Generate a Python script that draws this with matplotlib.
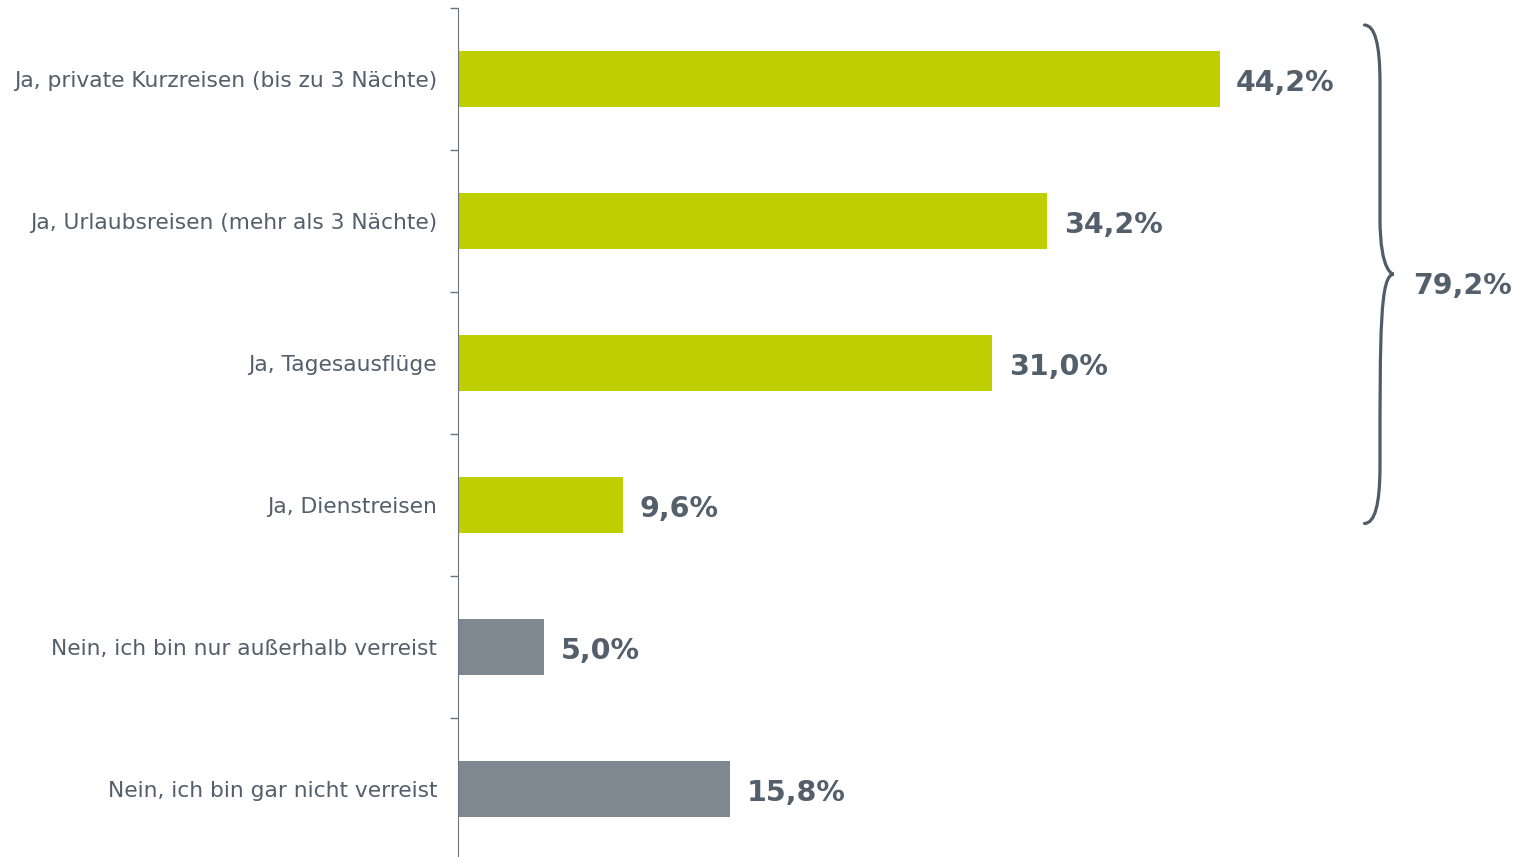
import matplotlib.pyplot as plt
from matplotlib.path import Path
from matplotlib.patches import PathPatch

categories = [
    "Ja, private Kurzreisen (bis zu 3 Nächte)",
    "Ja, Urlaubsreisen (mehr als 3 Nächte)",
    "Ja, Tagesausflüge",
    "Ja, Dienstreisen",
    "Nein, ich bin nur außerhalb verreist",
    "Nein, ich bin gar nicht verreist",
]
values = [44.2, 34.2, 31.0, 9.6, 5.0, 15.8]
is_yes = [True, True, True, True, False, False]
total_yes = 79.2

GREEN = "#BFCE00"
GREY = "#7F8790"
TEXT = "#535F6B"

plt.rcParams['font.family'] = ['DejaVu Sans']

fig = plt.figure(figsize=(15.26, 8.57), dpi=100)
ax = fig.add_axes([458 / 1526, -3 / 857, 1034 / 1526, 852 / 857])

y = list(range(len(categories)))
colors = [GREEN if yes else GREY for yes in is_yes]
ax.barh(y, values, height=0.4, color=colors)

for yi, v in zip(y, values):
    ax.text(v + 0.95, yi + 0.025, f"{v:.1f}".replace(".", ",") + "%", va="center", ha="left",
            fontsize=20.5, fontweight="bold", color=TEXT)

ax.set_xlim(0, 60)
ax.set_ylim(len(categories) - 0.5, -0.5)

# ticks between the categories, labels in the middle
ax.set_yticks([i - 0.5 for i in range(len(categories) + 1)])
ax.set_yticklabels([])
ax.set_yticks(y, minor=True)
ax.set_yticklabels(categories, minor=True, fontsize=15.7, color=TEXT)
ax.tick_params(axis="y", which="major", length=6, color="#6B7580", width=1)
ax.tick_params(axis="y", which="minor", length=0, pad=15)
ax.set_xticks([])
for s in ["top", "right", "bottom"]:
    ax.spines[s].set_visible(False)
ax.spines["left"].set_color("#6B7580")


# curly brace next to the "Ja" bars
def brace(ax, x_tip, x_mid, x_line, y0, y1, dy):
    ym = (y0 + y1) / 2
    verts = [
        (x_tip, y0), (x_line, y0), (x_line, y0 + dy),
        (x_line, ym - dy),
        (x_line, ym), (x_mid, ym), (x_mid, ym),
        (x_line, ym), (x_line, ym + dy),
        (x_line, y1 - dy),
        (x_line, y1), (x_tip, y1),
    ]
    codes = [Path.MOVETO, Path.CURVE3, Path.CURVE3,
             Path.LINETO,
             Path.CURVE4, Path.CURVE4, Path.CURVE4,
             Path.CURVE4, Path.CURVE4, Path.CURVE4,
             Path.CURVE3, Path.CURVE3]
    ax.add_patch(PathPatch(Path(verts, codes), fill=False, lw=2.3, ec="#505C68",
                           clip_on=False, capstyle="round"))


brace(ax, 52.6, 54.3, 53.5, -0.38, 3.13, 0.4)
ax.text(55.4, 1.46, f"{total_yes:.1f}".replace(".", ",") + "%", va="center", ha="left",
        fontsize=20.5, fontweight="bold", color=TEXT, clip_on=False)

fig.savefig("out.png", dpi=100)
